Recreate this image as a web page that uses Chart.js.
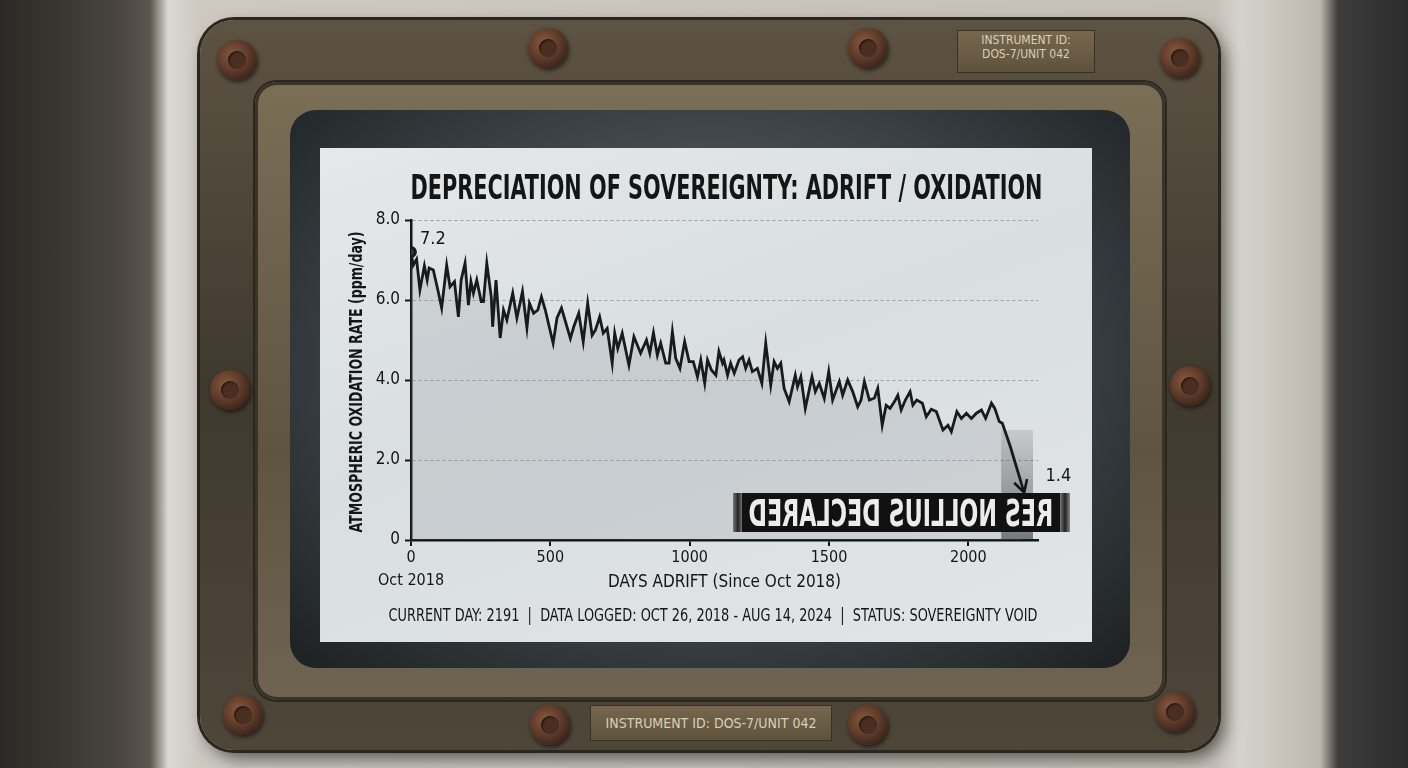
<!DOCTYPE html>
<html>
<head>
<meta charset="utf-8">
<script src="https://cdn.jsdelivr.net/npm/chart.js@4.4.1/dist/chart.umd.min.js"></script>
<style>
  html, body { margin: 0; padding: 0; }
  body {
    width: 1408px; height: 768px; overflow: hidden; position: relative;
    background: linear-gradient(90deg, #2c2926 0px, #46423c 110px, #5a554d 150px, #dcd9d2 168px, #cdc9c1 200px,
      #c6c1b8 1215px, #d6d3cc 1240px, #bdb8ae 1320px, #3c3d3c 1338px, #2b2c2b 1408px);
    font-family: "DejaVu Sans Condensed", "Liberation Sans Narrow", sans-serif;
  }
  .frame {
    position: absolute; left: 200px; top: 20px; width: 1018px; height: 730px; border-radius: 34px;
    background: linear-gradient(180deg, #5c5343, #40392e 50%, #4e4639);
    box-shadow: 0 0 0 3px #2a251e, 6px 8px 18px rgba(0,0,0,.6);
  }
  .bezel {
    position: absolute; left: 255px; top: 82px; width: 910px; height: 618px; border-radius: 22px;
    background: linear-gradient(180deg, #7b6e57, #5e5440 60%, #6f6451);
    box-shadow: inset 0 0 0 3px #3a3328, 0 0 0 2px #2b261e;
  }
  .glass {
    position: absolute; left: 290px; top: 110px; width: 840px; height: 558px; border-radius: 26px;
    background: radial-gradient(ellipse at 50% 45%, #6f7679 0%, #3a4044 60%, #1c2022 100%);
  }
  .screen {
    position: absolute; left: 320px; top: 148px; width: 772px; height: 494px;
    background: linear-gradient(160deg, #e4e8ea, #d9dee1 45%, #e1e5e7);
  }
  .bolt {
    position: absolute; width: 40px; height: 40px; margin: -20px 0 0 -20px; border-radius: 50%;
    background: radial-gradient(circle at 40% 38%, #8a5a40 0%, #5e3b29 45%, #35221a 80%);
    box-shadow: 1px 2px 4px rgba(0,0,0,.6);
  }
  .bolt::after {
    content: ""; position: absolute; left: 11px; top: 11px; width: 18px; height: 18px; border-radius: 50%;
    background: #4a2e21; box-shadow: inset 1px 1px 2px rgba(0,0,0,.6);
  }
  .plate {
    position: absolute; background: linear-gradient(180deg, #76674e, #5f523d);
    border: 1px solid #3a3125; color: #d9cfb9; text-align: center; line-height: 1.15; white-space: nowrap;
  }
  .fit { position: absolute; white-space: pre; transform-origin: 50% 50%; }
  .footer { font-size: 18px; color: #151515; }
  .banner {
    position: absolute; left: 422px; top: 345px; width: 318px; height: 39px; background: #111;
  }
  .banner .fit { color: #ececec; font-weight: bold; font-size: 38px; }
  .tab { position: absolute; top: 345px; width: 10px; height: 39px;
    background: linear-gradient(90deg, #777, #222 50%, #888); }
</style>
</head>
<body>
<div class="frame"></div>
<div class="bezel"></div>
<div class="glass"></div>

<div class="bolt" style="left:237px;top:60px"></div>
<div class="bolt" style="left:548px;top:48px"></div>
<div class="bolt" style="left:868px;top:48px"></div>
<div class="bolt" style="left:1180px;top:58px"></div>
<div class="bolt" style="left:230px;top:390px"></div>
<div class="bolt" style="left:1190px;top:386px"></div>
<div class="bolt" style="left:243px;top:715px"></div>
<div class="bolt" style="left:550px;top:725px"></div>
<div class="bolt" style="left:868px;top:725px"></div>
<div class="bolt" style="left:1175px;top:712px"></div>

<div class="plate" style="left:957px;top:30px;width:136px;height:38px;font-size:12px;padding-top:3px">INSTRUMENT ID:<br>DOS-7/UNIT 042</div>
<div class="plate" style="left:590px;top:705px;width:240px;height:34px;font-size:14px;line-height:34px">INSTRUMENT ID: DOS-7/UNIT 042</div>

<div class="screen">
  <canvas id="myChart"></canvas>
  <div class="tab" style="left:413px"></div>
  <div class="banner"><span class="fit" id="bannerText" data-cx="159" data-cy="19.5" data-w="305" data-flip="1">RES NOLLIUS DECLARED</span></div>
  <div class="tab" style="left:740px"></div>
  <span class="fit footer" id="footer" data-cx="393" data-cy="466" data-w="649">CURRENT DAY: 2191  |  DATA LOGGED: OCT 26, 2018 - AUG 14, 2024  |  STATUS: SOVEREIGNTY VOID</span>
</div>

<script>
const FONT = '"DejaVu Sans Condensed", "Liberation Sans Narrow", sans-serif';

const title = 'DEPRECIATION OF SOVEREIGNTY: ADRIFT / OXIDATION';
const xTitle = 'DAYS ADRIFT (Since Oct 2018)';
const yTitle = 'ATMOSPHERIC OXIDATION RATE (ppm/day)';
const startTickNote = 'Oct 2018';
const xTicks = [0, 500, 1000, 1500, 2000];
const yTicks = [0, 2, 4, 6, 8];

const days = [
  0, 8, 20, 32, 48, 58, 65, 80, 98, 110, 128, 140, 156, 170, 180, 194, 206, 215, 224, 236,
  252, 260, 272, 288, 293, 305, 320, 332, 344, 365, 380, 400, 416, 425, 440, 455, 468, 482, 496, 510,
  524, 540, 572, 584, 602, 618, 634, 650, 662, 677, 690, 704, 722, 731, 742, 758, 782, 800, 824, 845,
  857, 870, 884, 896, 914, 926, 938, 950, 965, 982, 998, 1013, 1028, 1040, 1054, 1064, 1078, 1094, 1105, 1118,
  1123, 1136, 1147, 1160, 1177, 1190, 1201, 1213, 1225, 1243, 1259, 1273, 1291, 1303, 1315, 1327, 1339, 1357, 1379, 1387,
  1399, 1415, 1439, 1451, 1465, 1483, 1499, 1513, 1537, 1549, 1567, 1585, 1603, 1615, 1627, 1645, 1663, 1675, 1691, 1705,
  1719, 1735, 1747, 1759, 1774, 1791, 1801, 1815, 1835, 1849, 1867, 1885, 1909, 1927, 1939, 1959, 1975, 1993, 2011, 2029,
  2047, 2062, 2083, 2095, 2111, 2122, 2150, 2191
];

const rates = [
  7.2, 6.87, 7.02, 6.25, 6.85, 6.5, 6.8, 6.75, 6.2, 5.8, 6.87, 6.33, 6.46, 5.58, 6.5, 6.92, 5.87, 6.46, 6.17, 6.5,
  5.96, 5.96, 6.92, 6.08, 5.33, 6.5, 5.05, 5.75, 5.5, 6.17, 5.55, 6.21, 5.3, 5.92, 5.67, 5.75, 6.08, 5.75, 5.33, 4.92,
  5.55, 5.8, 5.04, 5.33, 5.67, 4.96, 5.92, 5.12, 5.25, 5.58, 5.17, 5.29, 4.42, 5.17, 4.79, 5.17, 4.37, 5.08, 4.67, 5.0,
  4.67, 5.18, 4.62, 4.92, 4.42, 4.42, 5.21, 4.54, 4.29, 4.96, 4.46, 4.46, 4.08, 4.5, 3.92, 4.5, 4.25, 4.12, 4.71, 4.42,
  4.5, 4.12, 4.42, 4.17, 4.5, 4.58, 4.29, 4.5, 4.21, 4.29, 3.92, 4.92, 3.87, 4.46, 4.29, 4.42, 3.79, 3.46, 4.12, 3.83,
  4.08, 3.29, 4.08, 3.71, 3.92, 3.54, 4.21, 3.5, 3.96, 3.62, 4.0, 3.71, 3.33, 3.5, 3.96, 3.5, 3.55, 3.79, 2.87, 3.37,
  3.29, 3.46, 3.62, 3.25, 3.5, 3.71, 3.37, 3.5, 3.42, 3.08, 3.27, 3.21, 2.75, 2.87, 2.71, 3.21, 3.04, 3.17, 3.04, 3.17,
  3.25, 3.04, 3.42, 3.29, 2.96, 2.92, 2.35, 1.4
];

// the shaded "void" stretch at the end of the record
const voidDays = [2118, 2232];
const voidTop = 2.75;

const points = days.map((d, i) => ({ x: d, y: rates[i] }));

// squeeze a text line to a given width (the panel uses a condensed face)
function squeezed(ctx, text, cx, cy, width) {
  const k = Math.min(1, width / ctx.measureText(text).width);
  ctx.save();
  ctx.translate(cx, cy);
  ctx.scale(k, 1);
  ctx.fillText(text, 0, 0);
  ctx.restore();
}

const endMarks = {
  id: 'endMarks',
  beforeDatasetsDraw(chart) {
    const { ctx, scales: { x, y } } = chart;
    const x0 = x.getPixelForValue(voidDays[0]);
    const x1 = x.getPixelForValue(voidDays[1]);
    const yt = y.getPixelForValue(voidTop);
    const yb = y.getPixelForValue(0);
    const g = ctx.createLinearGradient(0, yt, 0, yb);
    g.addColorStop(0, 'rgba(70,74,78,0.15)');
    g.addColorStop(1, 'rgba(30,32,34,0.55)');
    ctx.save();
    ctx.fillStyle = g;
    ctx.fillRect(x0, yt, x1 - x0, yb - yt);
    ctx.restore();
  },
  afterDraw(chart) {
    const { ctx, chartArea } = chart;
    const pts = chart.getDatasetMeta(0).data;
    const first = pts[0], last = pts[pts.length - 1], prev = pts[pts.length - 2];
    ctx.save();
    ctx.fillStyle = '#151515';
    ctx.textBaseline = 'middle';

    ctx.textAlign = 'center';
    ctx.font = 'bold 33px ' + FONT;
    squeezed(ctx, title, (chartArea.left + chartArea.right) / 2 + 2, 42, 632);

    ctx.font = 'bold 17px ' + FONT;
    ctx.save();
    ctx.translate(38, (chartArea.top + chartArea.bottom) / 2 + 2);
    ctx.rotate(-Math.PI / 2);
    squeezed(ctx, yTitle, 0, 0, 301);
    ctx.restore();

    ctx.textAlign = 'left';
    ctx.font = '18px ' + FONT;
    ctx.fillText(rates[0].toFixed(1), first.x + 9, first.y - 13);
    ctx.fillText(rates[rates.length - 1].toFixed(1), last.x + 24, last.y - 8);

    // arrow head on the final drop
    const a = Math.atan2(last.y - prev.y, last.x - prev.x);
    const tx = last.x + Math.cos(a) * 9, ty = last.y + Math.sin(a) * 9;
    ctx.strokeStyle = '#151515';
    ctx.lineWidth = 2.6;
    ctx.beginPath();
    ctx.moveTo(last.x, last.y);
    ctx.lineTo(tx, ty);
    ctx.moveTo(tx - Math.cos(a - 0.5) * 14, ty - Math.sin(a - 0.5) * 14);
    ctx.lineTo(tx, ty);
    ctx.lineTo(tx - Math.cos(a + 0.5) * 14, ty - Math.sin(a + 0.5) * 14);
    ctx.stroke();
    ctx.restore();
  }
};

const config = {
  type: 'line',
  data: {
    datasets: [{
      data: points,
      borderColor: '#1a1a1a',
      borderWidth: 2.8,
      backgroundColor: 'rgba(120,128,134,0.18)',
      fill: 'origin',
      tension: 0,
      pointRadius: (c) => (c.dataIndex === 0 ? 4.5 : 0),
      pointBackgroundColor: '#333',
      pointBorderColor: '#1a1a1a'
    }]
  },
  options: {
    responsive: true,
    maintainAspectRatio: false,
    animation: false,
    layout: { padding: { left: 20, right: 54, top: 72, bottom: 40 } },
    plugins: {
      legend: { display: false },
      tooltip: { enabled: false }
    },
    scales: {
      x: {
        type: 'linear',
        min: 0,
        max: 2250,
        afterFit: (s) => { s.height = 62; },
        afterBuildTicks: (s) => { s.ticks = xTicks.map((v) => ({ value: v })); },
        ticks: {
          maxRotation: 0,
          autoSkip: false,
          padding: 0,
          color: '#151515',
          font: { family: FONT, size: 16, lineHeight: 1.45 },
          callback: (v) => (v === 0 ? ['0', startTickNote] : String(v))
        },
        grid: { drawOnChartArea: false, tickLength: 6, color: '#151515', lineWidth: 2 },
        border: { color: '#151515', width: 2.5 },
        title: {
          display: true,
          text: xTitle,
          color: '#151515',
          font: { family: FONT, size: 17 },
          padding: { top: 0, bottom: 9 }
        }
      },
      y: {
        min: 0,
        max: 8,
        afterFit: (s) => { s.width = 71; },
        afterBuildTicks: (s) => { s.ticks = yTicks.map((v) => ({ value: v })); },
        ticks: {
          padding: 5,
          color: '#151515',
          font: { family: FONT, size: 17 },
          callback: (v) => (v === 0 ? '0' : v.toFixed(1))
        },
        grid: { color: '#9aa0a5', lineWidth: 1, tickLength: 6, tickColor: '#151515', tickWidth: 2 },
        border: { color: '#151515', width: 2.5, dash: [3, 3] }
      }
    }
  },
  plugins: [endMarks]
};

new Chart(document.getElementById('myChart'), config);

// fit the html text lines to the widths seen on the panel
document.querySelectorAll('.fit').forEach((el) => {
  const w = el.offsetWidth, h = el.offsetHeight;
  const k = Math.min(1, +el.dataset.w / w);
  el.style.left = (+el.dataset.cx - w / 2) + 'px';
  el.style.top = (+el.dataset.cy - h / 2) + 'px';
  el.style.transform = 'scaleX(' + (el.dataset.flip ? -k : k) + ')';
});
</script>
</body>
</html>
